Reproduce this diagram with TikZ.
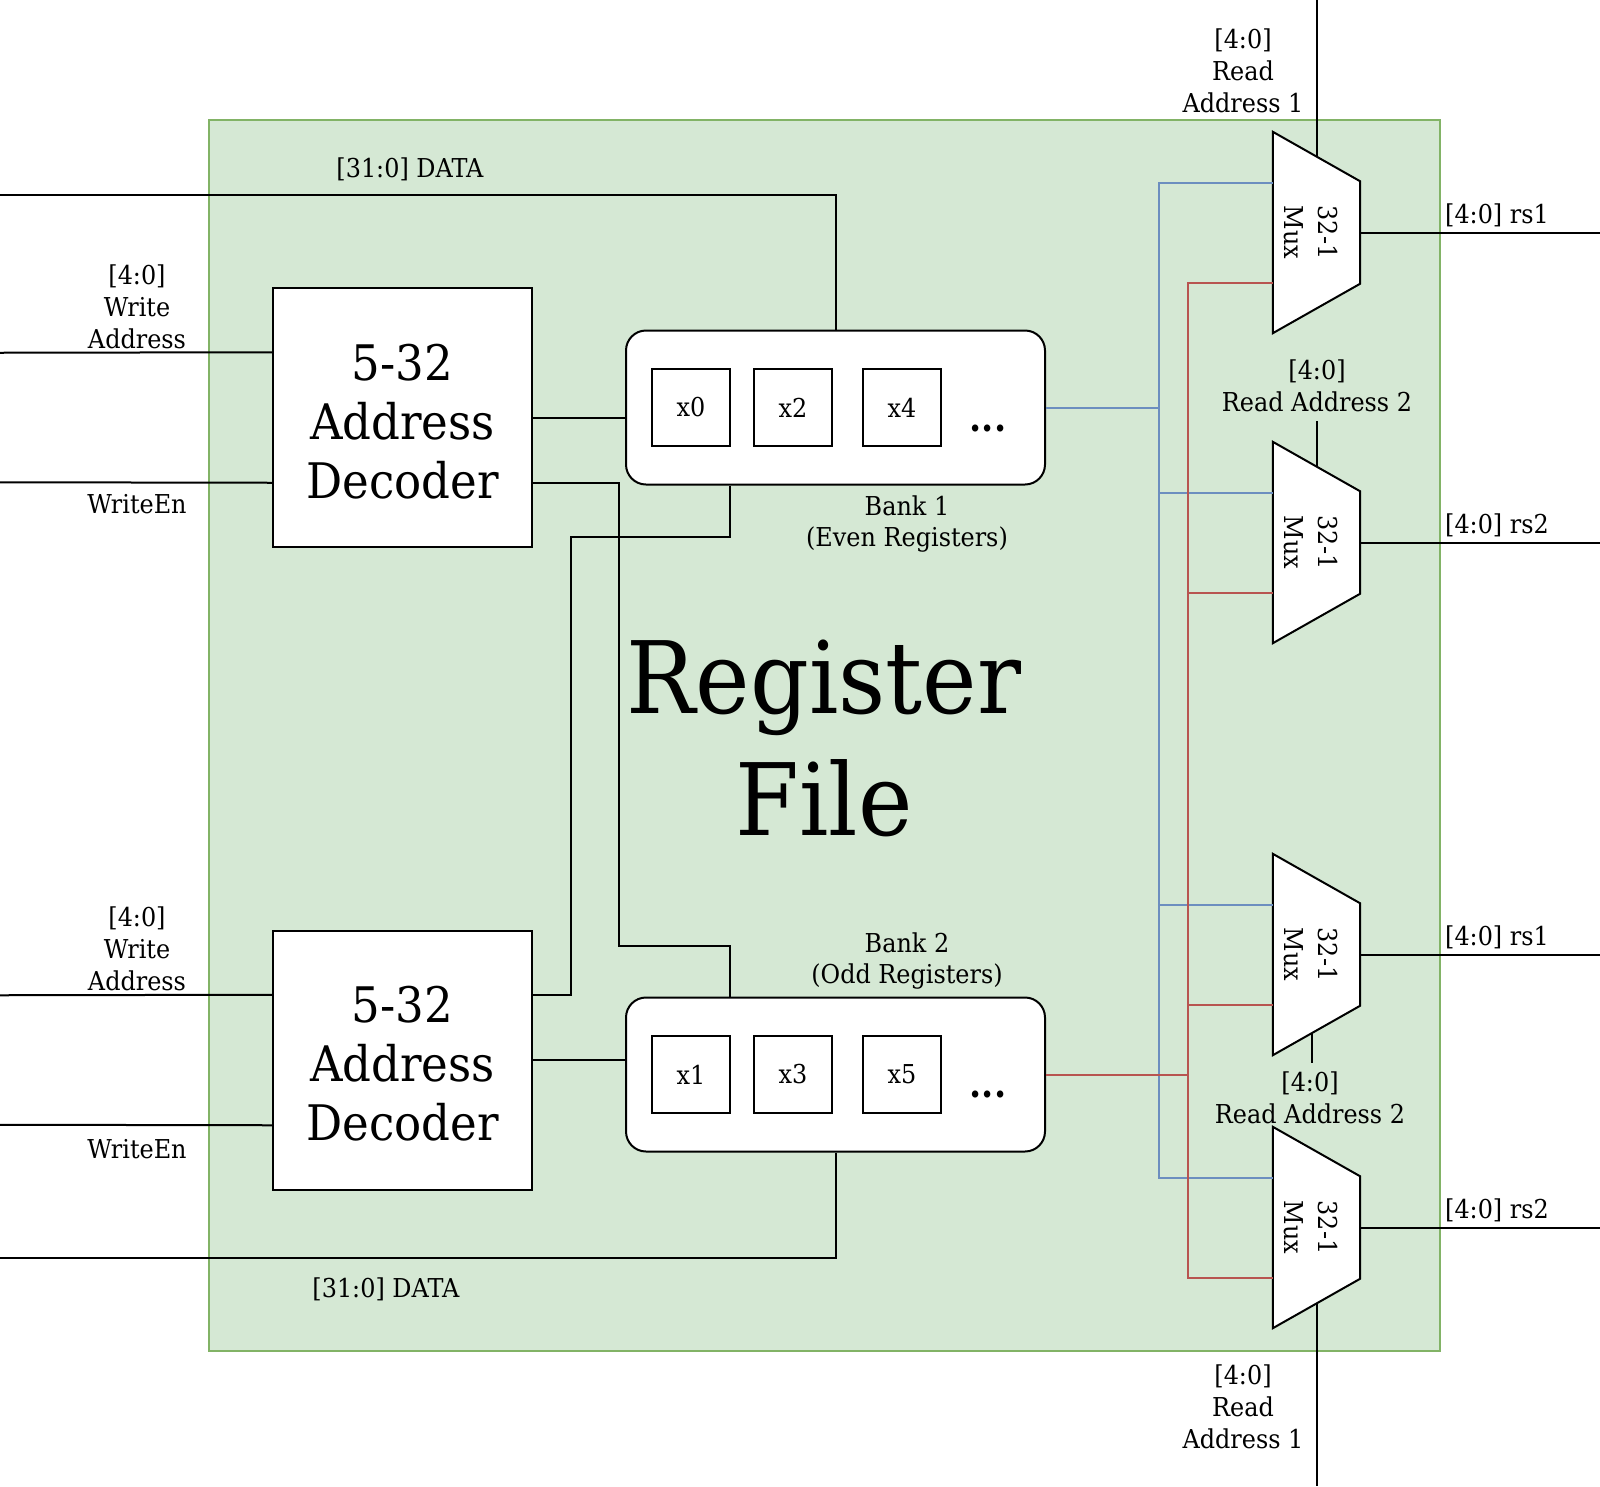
\documentclass[tikz,border=0pt]{standalone}
\usepackage{fontspec}
\setmainfont{DejaVu Serif}[FakeStretch=0.92]
\usetikzlibrary{calc}
\definecolor{gfill}{HTML}{D5E8D4}
\definecolor{gdraw}{HTML}{82B366}
\definecolor{bline}{HTML}{6C8EBF}
\definecolor{rline}{HTML}{B85450}
\newcommand\drawmux[1]{\draw[line width=2pt, fill=white, line join=miter] (#1.north west) -- ($(#1.north east)+(0,49.5)$) -- ($(#1.south east)+(0,-49.5)$) -- (#1.south west) -- cycle;}
\begin{document}
\begin{tikzpicture}[x=1pt,y=-1pt,
  wire/.style={draw=black, line width=2pt},
  bwire/.style={draw=bline, line width=2pt},
  rwire/.style={draw=rline, line width=2pt},
  container/.style={draw=gdraw, fill=gfill, line width=2pt, minimum width=1231pt, minimum height=1231pt, inner sep=0pt},
  titletxt/.style={font=\fontsize{100}{122}\selectfont, align=center, inner sep=0pt},
  decoder/.style={draw, fill=white, line width=2pt, minimum width=259pt, minimum height=259pt, inner sep=0pt},
  dectxt/.style={align=center, inner sep=0pt, font=\fontsize{49}{59}\selectfont},
  bank/.style={draw, fill=white, line width=2pt, rounded corners=20pt, minimum width=419pt, minimum height=154pt, inner sep=0pt},
  reg/.style={draw, fill=white, line width=2pt, minimum width=78pt, minimum height=77pt, inner sep=0pt, font=\fontsize{26}{32}\selectfont},
  dots/.style={font=\fontsize{38}{40}\selectfont\bfseries, inner sep=0pt, anchor=base},
  muxbox/.style={minimum width=87pt, minimum height=201pt, inner sep=0pt},
  muxtxt/.style={rotate=-90, align=center, inner sep=0pt, font=\fontsize{26}{34}\selectfont},
  lbl/.style={font=\fontsize{26}{32}\selectfont, align=center, inner sep=0pt},
  lblb/.style={font=\fontsize{26}{32}\selectfont, inner sep=0pt, anchor=base},
]
\fill[white] (0,0) rectangle (1600,1486);
\useasboundingbox (0,0) rectangle (1600,1486);

% container
\node[container] (rf) at (824.5,735.5) {};
\node[titletxt] (title) at (824,738) {Register\\File};

% decoders
\node[decoder] (d1) at (402.5,417.5) {};
\node[dectxt] (d1t) at (402.5,421.5) {5-32\\Address\\Decoder};
\node[decoder] (d2) at (402.5,1060) {};
\node[dectxt] (d2t) at (402.5,1064) {5-32\\Address\\Decoder};

% banks
\node[bank] (b1) at (835.5,407.5) {};
\node[reg] (x0) at (691,407.5) {x0};
\node[reg] (x2) at (793,407.5) {x2};
\node[reg] (x4) at (902,407.5) {x4};
\node[dots] (dt1) at (988,431) {...};
\node[bank] (b2) at (835.5,1074.5) {};
\node[reg] (x1) at (691,1074.5) {x1};
\node[reg] (x3) at (793,1074.5) {x3};
\node[reg] (x5) at (902,1074.5) {x5};
\node[dots] (dt2) at (988,1097) {...};
\node[lbl, align=center, font=\fontsize{26}{31}\selectfont] (bl1) at (907,524) {Bank 1\\(Even Registers)};
\node[lbl, align=center, font=\fontsize{26}{31}\selectfont] (bl2) at (907,961) {Bank 2\\(Odd Registers)};

% muxes
\node[muxbox] (m1) at (1316.5,232.5) {};
\node[muxbox] (m2) at (1316.5,542.5) {};
\node[muxbox] (m3) at (1316.5,954.5) {};
\node[muxbox] (m4) at (1316.5,1227.5) {};
\drawmux{m1}\drawmux{m2}\drawmux{m3}\drawmux{m4}
\node[muxtxt] (m1t) at (1311,232.5) {32-1\\Mux};
\node[muxtxt] (m2t) at (1311,542.5) {32-1\\Mux};
\node[muxtxt] (m3t) at (1311,954.5) {32-1\\Mux};
\node[muxtxt] (m4t) at (1311,1227.5) {32-1\\Mux};

% free-end coordinates
\coordinate (dataL1) at (0,195);
\coordinate (wa1) at (0,352.75);
\coordinate (we1) at (0,482.25);
\coordinate (wa2) at (0,995.25);
\coordinate (we2) at (0,1124.75);
\coordinate (dataL2) at (0,1258);
\coordinate (redge) at (1600,0);
\coordinate (k1) at (618.5,946);
\coordinate (k2) at (571,537);
\coordinate (bx) at (1159,0);
\coordinate (rx) at (1188,0);
\coordinate (ra1t) at (1316.5,0);
\coordinate (ra2a) at (1316.5,421);
\coordinate (ra2b) at (1312,1063);
\coordinate (ra1b) at (1316.5,1486);
\foreach \m in {m1,m2,m3,m4}{
  \coordinate (\m b) at ($(\m.west)+(0,-50)$);
  \coordinate (\m r) at ($(\m.west)+(0,50)$);
}

% black wires
\draw[wire] (dataL1) -| (b1.north);
\draw[wire] (wa1) -- ($(d1.north west)!0.25!(d1.south west)$);
\draw[wire] (we1) -- ($(d1.north west)!0.75!(d1.south west)$);
\draw[wire] (d1.east) -- (d1.east -| b1.west);
\draw[wire] ($(d1.north east)!0.75!(d1.south east)$) -| (k1) -| ($(b2.north west)!0.25!(b2.north east)$);
\draw[wire] ($(b1.south west)!0.25!(b1.south east)$) |- (k2) |- ($(d2.north east)!0.25!(d2.south east)$);
\draw[wire] (wa2) -- ($(d2.north west)!0.25!(d2.south west)$);
\draw[wire] (we2) -- ($(d2.north west)!0.75!(d2.south west)$);
\draw[wire] (d2.east) -- (d2.east -| b2.west);
\draw[wire] (b2.south) |- (dataL2);

% blue bus
\draw[bwire] (m1b) -- (m1b -| bx) -- (m4b -| bx) -- (m4b);
\draw[bwire] (m2b -| bx) -- (m2b);
\draw[bwire] (m3b -| bx) -- (m3b);
\draw[bwire] (b1.east) -- (b1.east -| bx);
% red bus
\draw[rwire] (m1r) -- (m1r -| rx) -- (m4r -| rx) -- (m4r);
\draw[rwire] (m2r -| rx) -- (m2r);
\draw[rwire] (m3r -| rx) -- (m3r);
\draw[rwire] (b2.east) -- (b2.east -| rx);

% mux outputs and selects
\draw[wire] (m1.east) -- (m1.east -| redge);
\draw[wire] (m2.east) -- (m2.east -| redge);
\draw[wire] (m3.east) -- (m3.east -| redge);
\draw[wire] (m4.east) -- (m4.east -| redge);
\draw[wire] (ra1t) -- ($(m1.north)+(0,24.75)$);
\draw[wire] (ra2a) -- ($(m2.north)+(0,24.75)$);
\draw[wire] ($(m3.south)+(-4.5,-22.4)$) -- (ra2b);
\draw[wire] ($(m4.south)+(0,-24.75)$) -- (ra1b);

% labels
\node[lblb] (ldata1) at (410,177) {[31:0] DATA};
\node[lblb] (ldata2) at (386,1297) {[31:0] DATA};
\node[lbl] (lwa1) at (137,306.5) {[4:0]\\Write\\Address};
\node[lblb] (lwe1) at (137,513) {WriteEn};
\node[lbl] (lwa2) at (137,948.5) {[4:0]\\Write\\Address};
\node[lblb] (lwe2) at (137,1158) {WriteEn};
\node[lbl] (lra1t) at (1243,71) {[4:0]\\Read\\Address 1};
\node[lbl] (lra2a) at (1317,386) {[4:0]\\Read Address 2};
\node[lbl] (lra2b) at (1310,1098) {[4:0]\\Read Address 2};
\node[lbl] (lra1b) at (1243,1407) {[4:0]\\Read\\Address 1};
\node[lblb] (lo1) at (1497,223) {[4:0] rs1};
\node[lblb] (lo2) at (1497,533) {[4:0] rs2};
\node[lblb] (lo3) at (1497,945) {[4:0] rs1};
\node[lblb] (lo4) at (1497,1218) {[4:0] rs2};
\end{tikzpicture}
\end{document}
